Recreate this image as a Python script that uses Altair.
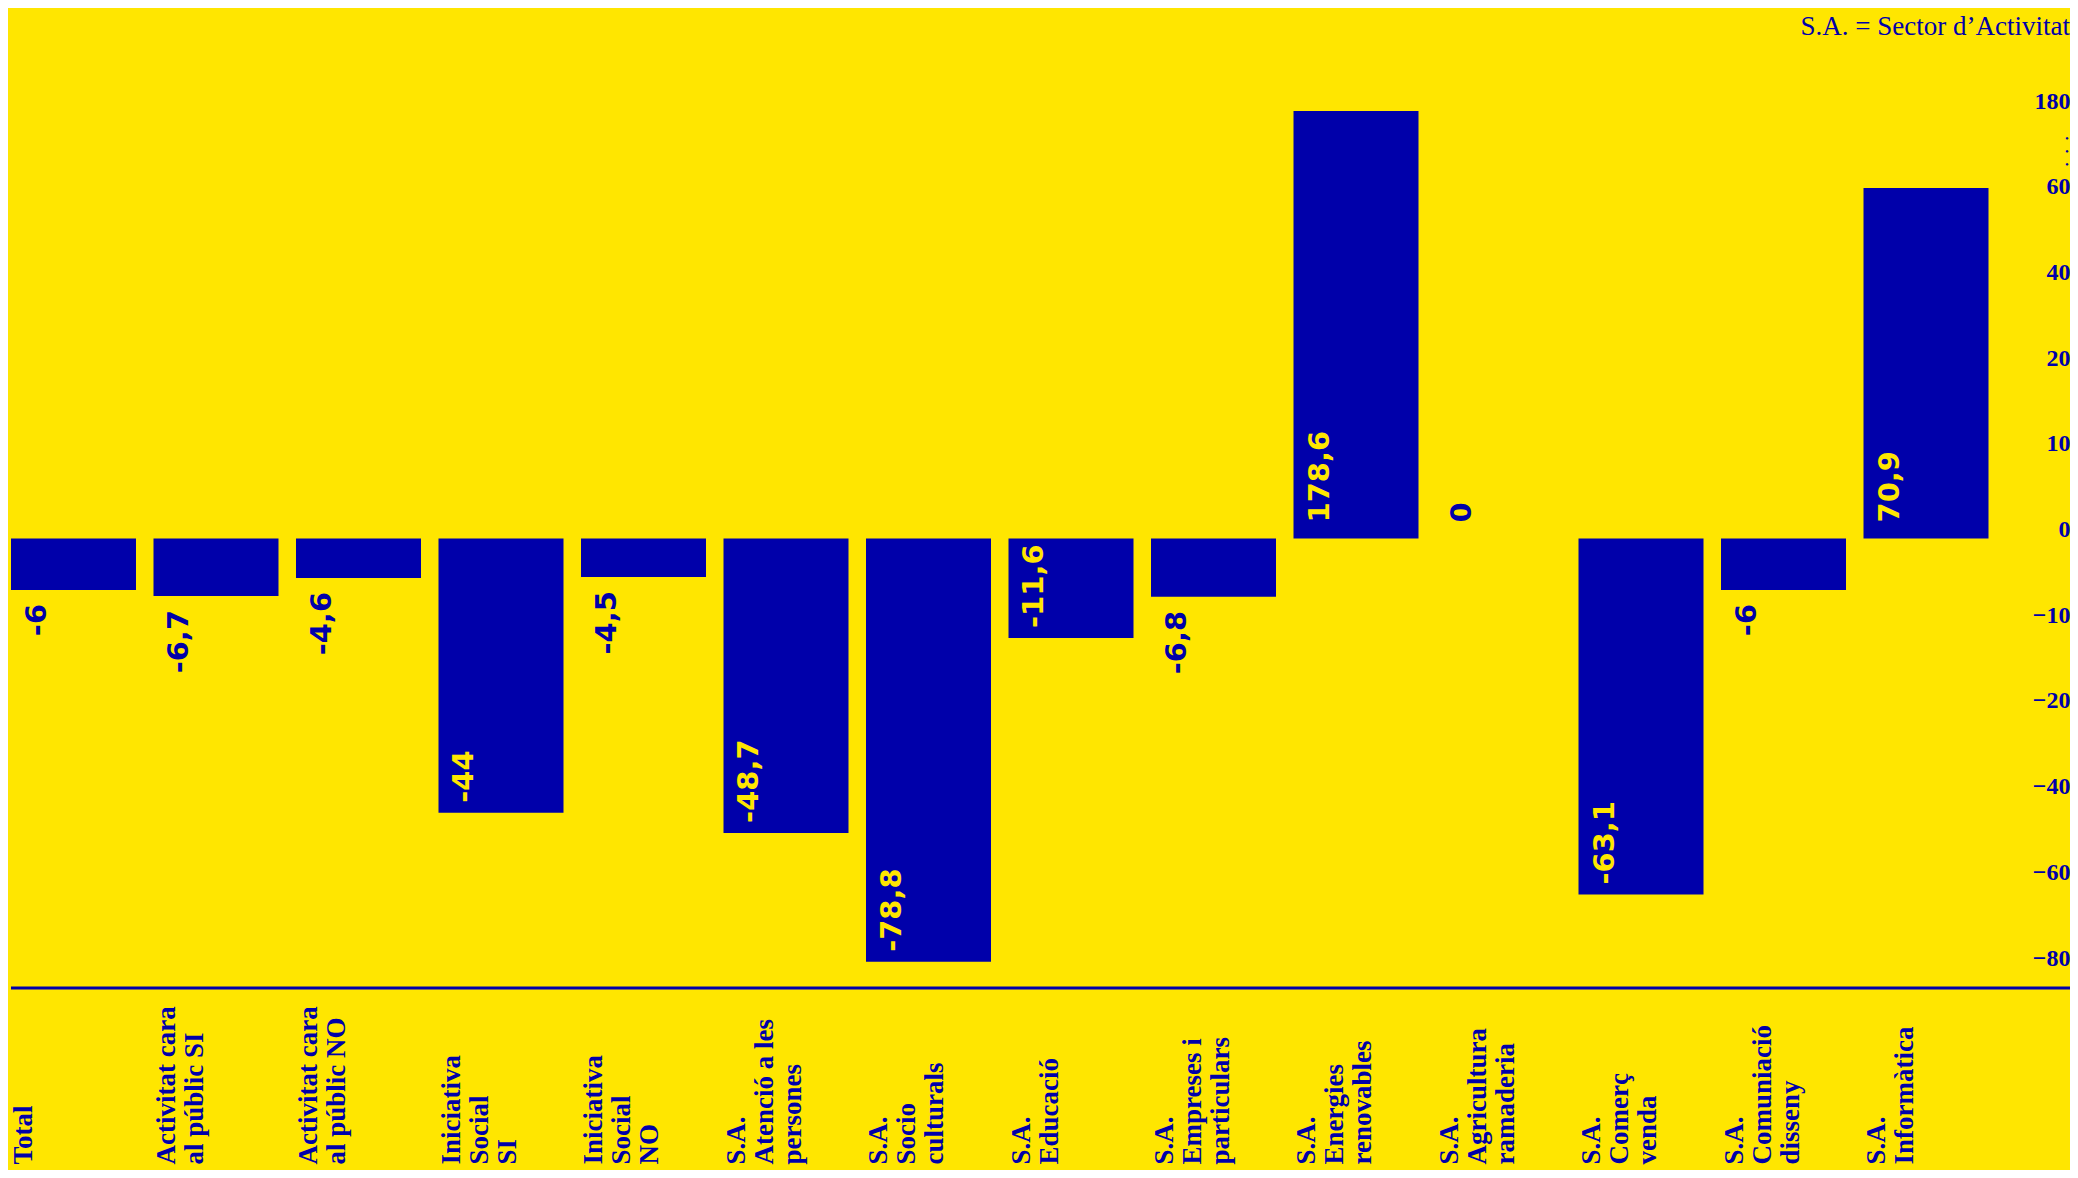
import altair as alt
import pandas as pd

# ---- data ----
categories = [
    "Total",
    "Activitat cara\nal públic SI",
    "Activitat cara\nal públic NO",
    "Iniciativa\nSocial\nSI",
    "Iniciativa\nSocial\nNO",
    "S.A.\nAtenció a les\npersones",
    "S.A.\nSocio\nculturals",
    "S.A.\nEducació",
    "S.A.\nEmpreses i\nparticulars",
    "S.A.\nEnergies\nrenovables",
    "S.A.\nAgricultura\nramaderia",
    "S.A.\nComerç\nvenda",
    "S.A.\nComuniació\ndisseny",
    "S.A.\nInformàtica",
]
values = [-6, -6.7, -4.6, -44, -4.5, -48.7, -78.8, -11.6, -6.8, 178.6, 0, -63.1, -6, 70.9]
tick_values = [-80, -60, -40, -20, -10, 0, 10, 20, 40, 60, 180]
note = "S.A. = Sector d’Activitat"

labels = [f"{v:g}".replace(".", ",") for v in values]

YELLOW = "#FFE600"
BLUE = "#0000AA"

W = 1983.5
H = 980
RIGHT = 2062  # right edge of everything, in plot coordinates
ZERO_Y = 530.5
STEP_Y = 85.7
zi = tick_values.index(0)
y_range = [ZERO_Y + (zi - i) * STEP_Y for i in range(len(tick_values))]

df = pd.DataFrame({"cat": categories, "value": values, "label": labels})
note_df = pd.DataFrame({"note": [note]})

x_scale = alt.Scale(domain=categories, paddingInner=0.1228, paddingOuter=0.021)
x_axis = alt.Axis(
    title=None, domain=False, ticks=False, tickSize=0, grid=False,
    labelAngle=270, labelAlign="left", labelBaseline="top",
    labelFont="Liberation Serif", labelFontWeight="bold", labelFontSize=27,
    labelColor=BLUE, labelLineHeight=28, labelPadding=176, labelOffset=-62,
    labelLimit=600, labelOverlap=False,
    labelExpr="split(datum.label, '\\n')",
)
y_scale = alt.Scale(domain=tick_values, range=y_range, nice=False, zero=False)
y_axis = alt.Axis(
    title=None, orient="right", values=tick_values, domain=False, ticks=False,
    tickSize=0, grid=False, labelAlign="right", labelBaseline="middle",
    labelFont="Liberation Serif", labelFontWeight="bold", labelFontSize=24,
    labelColor=BLUE, labelPadding=RIGHT - W, labelOffset=-9, labelOverlap=False,
    labelFlush=False, labelBound=False,
)


def X(bp=0.5):
    return alt.X("cat:N", sort=categories, scale=x_scale, axis=x_axis, bandPosition=bp)


def Y():
    return alt.Y("value:Q", scale=y_scale, axis=y_axis)


base = alt.Chart(df)

bars = base.mark_bar(color=BLUE).encode(x=X(), y=Y(), y2=alt.datum(0))

val_font = dict(font="DejaVu Sans", fontWeight="bold", fontSize=29, angle=270,
                baseline="alphabetic", dy=35)

neg_in = base.transform_filter("datum.value <= -10").mark_text(
    align="left", dx=10, color=YELLOW, **val_font
).encode(x=X(0), y=Y(), text="label:N")

neg_out = base.transform_filter("datum.value < 0 && datum.value > -10").mark_text(
    align="right", dx=-14, color=BLUE, **val_font
).encode(x=X(0), y=Y(), text="label:N")

pos = base.transform_filter("datum.value >= 0").mark_text(
    align="left", dx=16, **val_font
).encode(
    x=X(0), y=alt.datum(0), text="label:N",
    color=alt.condition("datum.value > 0", alt.value(YELLOW), alt.value(BLUE)),
)

baseline_rule = alt.Chart(note_df).mark_rule(color=BLUE, strokeWidth=3).encode(
    x=alt.value(3), x2=alt.value(RIGHT), y=alt.value(980)
)

note_text = alt.Chart(note_df).mark_text(
    align="right", baseline="alphabetic", font="Liberation Serif", fontSize=27, color=BLUE
).encode(x=alt.value(RIGHT), y=alt.value(27), text="note:N")

dots = alt.Chart(note_df).mark_text(
    text=["•", "•", "•"], lineHeight=13, align="center", baseline="middle",
    font="Liberation Serif", fontSize=11, color=BLUE
).encode(x=alt.value(RIGHT - 3), y=alt.value(131))

chart = alt.layer(bars, neg_in, neg_out, pos, baseline_rule, note_text, dots).properties(
    width=W, height=H, background=YELLOW,
    padding={"left": 0, "top": 0, "right": RIGHT - W, "bottom": 182},
    autosize=alt.AutoSizeParams(type="none"),
).configure_view(stroke=None)

chart.save("out.html", embed_options={"renderer": "svg", "actions": False})
